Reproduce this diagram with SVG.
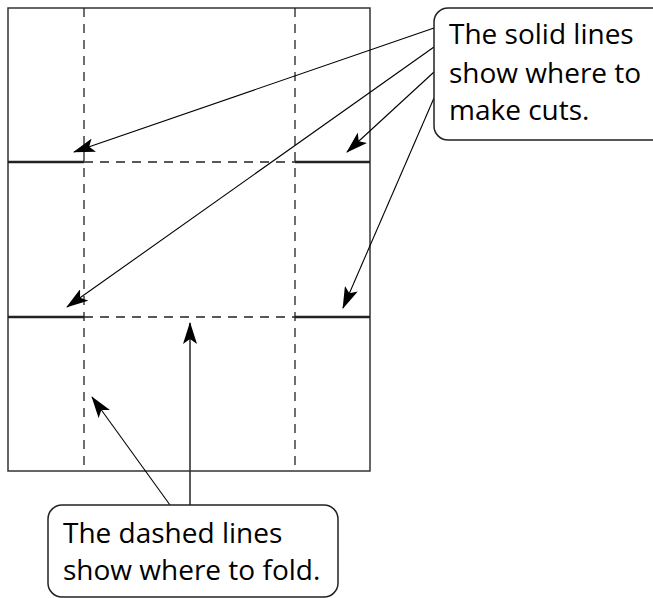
<svg xmlns="http://www.w3.org/2000/svg" width="653" height="598" viewBox="0 0 653 598">
<style>
.box{fill:#fff;stroke:#222;stroke-width:1.5}
.edge{fill:none;stroke:#333;stroke-width:1.5}
.cut{fill:none;stroke:#222;stroke-width:2.5}
.fold{fill:none;stroke:#222;stroke-width:1.3;stroke-dasharray:9 7}
.arr{fill:none;stroke:#000;stroke-width:1.1;marker-end:url(#ah)}
.lbl{font-family:"Open Sans","Noto Sans",sans-serif;font-size:28px;fill:#000}
</style>
<defs>
<marker id="ah" viewBox="0 0 22 14" refX="21" refY="7" markerWidth="22" markerHeight="14" markerUnits="userSpaceOnUse" orient="auto">
<path d="M0,0 L22,7 L0,14 L5,7 z" fill="#000"/>
</marker>
</defs>
<g id="sheet">
<rect class="edge" x="8" y="8" width="362" height="463"/>
<line class="fold" x1="84" y1="8" x2="84" y2="471"/>
<line class="fold" x1="295" y1="8" x2="295" y2="471"/>
<line class="fold" x1="84" y1="162" x2="295" y2="162"/>
<line class="fold" x1="84" y1="317" x2="295" y2="317"/>
<line class="cut" x1="8" y1="162" x2="84" y2="162"/>
<line class="cut" x1="295" y1="162" x2="370" y2="162"/>
<line class="cut" x1="8" y1="317" x2="84" y2="317"/>
<line class="cut" x1="295" y1="317" x2="370" y2="317"/>
</g>
<g id="connectors">
<line class="arr" x1="434" y1="28" x2="74" y2="152"/>
<line class="arr" x1="434" y1="47" x2="67" y2="307"/>
<line class="arr" x1="434" y1="72" x2="347" y2="152"/>
<line class="arr" x1="434" y1="98" x2="343" y2="308"/>
<line class="arr" x1="170" y1="505" x2="92" y2="397"/>
<line class="arr" x1="190" y1="505" x2="190" y2="323" style="stroke:#333;stroke-width:1.6"/>
</g>
<g id="callout-cuts">
<rect class="box" x="434" y="8" width="236" height="132" rx="14"/>
<text class="lbl" x="449" y="44">The solid lines</text>
<text class="lbl" x="449" y="83">show where to</text>
<text class="lbl" x="449" y="120">make cuts.</text>
</g>
<g id="callout-folds">
<rect class="box" x="48" y="505" width="290" height="92" rx="14"/>
<text class="lbl" x="63" y="543">The dashed lines</text>
<text class="lbl" x="63" y="580">show where to fold.</text>
</g>
</svg>
